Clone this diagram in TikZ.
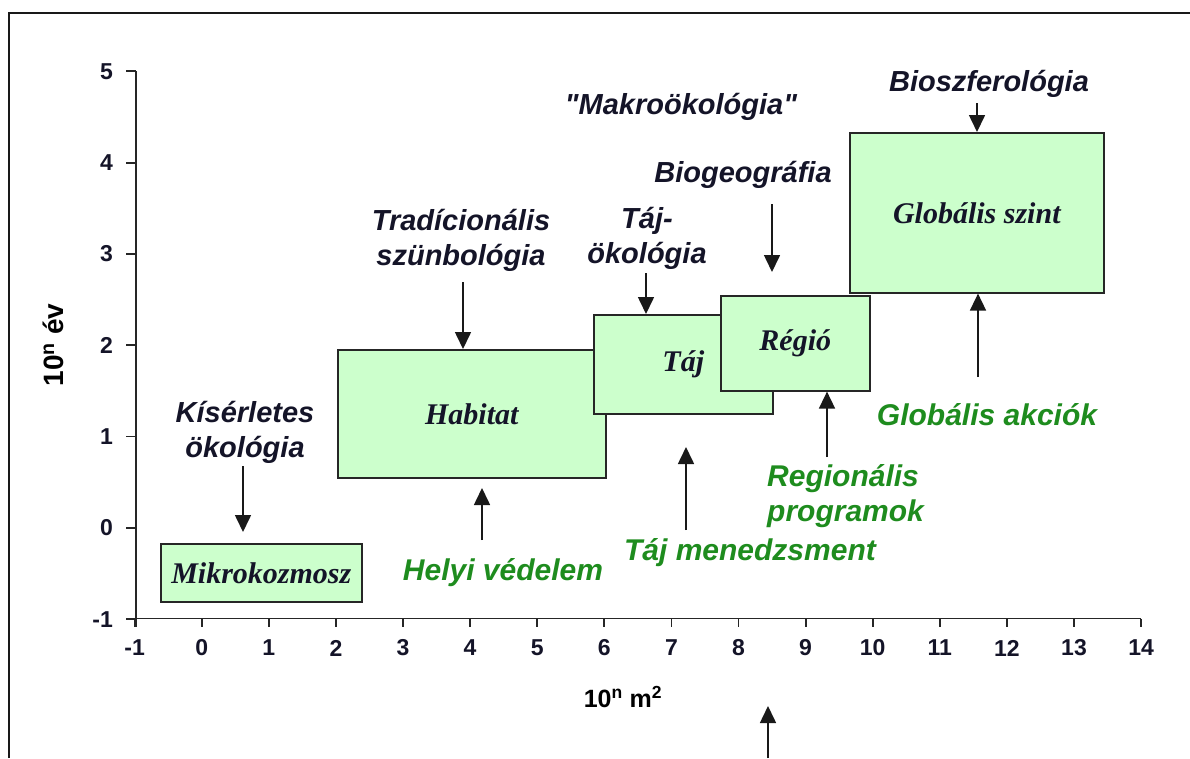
\documentclass[tikz,border=0pt]{standalone}
\usepackage{fontspec}
\setmainfont{Liberation Serif}
\setsansfont{Liberation Sans}
\newfontfamily\labfont{Liberation Sans}
\usetikzlibrary{arrows.meta}
\definecolor{boxfill}{RGB}{204,255,204}
\definecolor{ggreen}{RGB}{30,140,30}
\definecolor{ink}{RGB}{20,20,40}
\tikzset{
  box/.style={draw=black!85, line width=1.6pt, fill=boxfill, anchor=north west, inner sep=0pt,
    font=\rmfamily\bfseries\itshape\fontsize{30}{32}\selectfont, text=ink},
  lbl/.style={font=\labfont\bfseries\itshape\fontsize{29}{35}\selectfont, align=center, inner sep=0pt, text=ink},
  glbl/.style={lbl, font=\labfont\bfseries\itshape\fontsize{30}{35}\selectfont, text=ggreen},
  arr/.style={line width=1.6pt, draw=black!90, -{Triangle[length=17pt,width=16pt]}},
  axisline/.style={line width=1.8pt, draw=black!85},
  ticklbl/.style={font=\sffamily\bfseries\fontsize{23}{26}\selectfont, inner sep=0pt, text=ink},
  axtitle/.style={font=\sffamily\bfseries\fontsize{28}{30}\selectfont, inner sep=0pt},
  frame/.style={line width=1.8pt, draw=black!90},
}
\begin{document}
\begin{tikzpicture}[x=1pt,y=-1pt]
\useasboundingbox (0,0) rectangle (1190,758);
% frame
\coordinate (fb) at (9,758);
\coordinate (fc) at (9,13);
\coordinate (fr) at (1190,13);
\draw[frame] (fb) -- (fc) -- (fr);

% axes
\coordinate (ytop) at (135.7,71.3);
\coordinate (ybot) at (135.7,627);
\coordinate (xl) at (126,618.5);
\coordinate (xr) at (1141.1,618.5);
\draw[axisline] (ytop) -- (ybot);
\draw[axisline] (xl) -- (xr);
\foreach \v in {-1,...,5} {
  \draw[axisline] (126,{527.8-91.3*\v}) -- (135.7,{527.8-91.3*\v});
  \node[ticklbl, anchor=east] at (113,{527.8-91.3*\v}) {\v};
}
\foreach \u in {-1,...,14} {
  \draw[axisline] ({201.7+67.1*\u},618.5) -- ({201.7+67.1*\u},627);
  \node[ticklbl] at ({201.7+67.1*\u},648) {\u};
}
\node[axtitle, rotate=90] (ytitle) at (53,345) {10\textsuperscript{n} év};
\node[axtitle, font=\sffamily\bfseries\fontsize{25}{28}\selectfont] (xtitle) at (623,697) {10\textsuperscript{n} m\textsuperscript{2}};

% boxes
\node[box, minimum width=268pt, minimum height=128pt] (habitat) at (337,349) {Habitat};
\node[box, minimum width=179pt, minimum height=99pt] (taj) at (593,314) {Táj};
\node[box, minimum width=149pt, minimum height=95pt] (regio) at (720,295) {Régió};
\node[box, minimum width=254pt, minimum height=160pt] (glob) at (849,132) {Globális szint};
\node[box, minimum width=201pt, minimum height=58pt] (mikro) at (160,543) {Mikrokozmosz};

% labels
\node[lbl] (kis) at (245,432) {Kísérletes\\ökológia};
\node[lbl] (trad) at (461,240) {Tradícionális\\szünbológia};
\node[lbl] (tajok) at (647,238) {Táj-\\ökológia};
\node[lbl] (makro) at (681,107) {"Makroökológia"};
\node[lbl] (biogeo) at (743,175) {Biogeográfia};
\node[lbl] (biosz) at (989,84) {Bioszferológia};
\node[glbl] (helyi) at (503,573) {Helyi védelem};
\node[glbl] (tajmen) at (750,553) {Táj menedzsment};
\node[glbl, anchor=west, align=left] (reg) at (767,496) {Regionális\\programok};
\node[glbl] (globak) at (987,415) {Globális akciók};

% arrows
\coordinate (a1s) at (243,466);  \coordinate (a1e) at (243,532);
\draw[arr] (a1s) -- (a1e);
\coordinate (a2s) at (463,282);
\draw[arr] (a2s) -- (a2s |- habitat.north);
\coordinate (a3s) at (646,273);
\draw[arr] (a3s) -- (a3s |- taj.north);
\coordinate (a4s) at (772,204);  \coordinate (a4e) at (772,272);
\draw[arr] (a4s) -- (a4e);
\coordinate (a5s) at (977,103);
\draw[arr] (a5s) -- (a5s |- glob.north);
\coordinate (a6s) at (482,540);  \coordinate (a6e) at (482,488);
\draw[arr] (a6s) -- (a6e);
\coordinate (a7s) at (686,530);  \coordinate (a7e) at (686,447);
\draw[arr] (a7s) -- (a7e);
\coordinate (a8s) at (827,457);
\draw[arr] (a8s) -- (a8s |- regio.south);
\coordinate (a9s) at (978,377);
\draw[arr] (a9s) -- (a9s |- glob.south);
\coordinate (a10s) at (768,758); \coordinate (a10e) at (768,706);
\draw[arr] (a10s) -- (a10e);
\end{tikzpicture}
\end{document}
